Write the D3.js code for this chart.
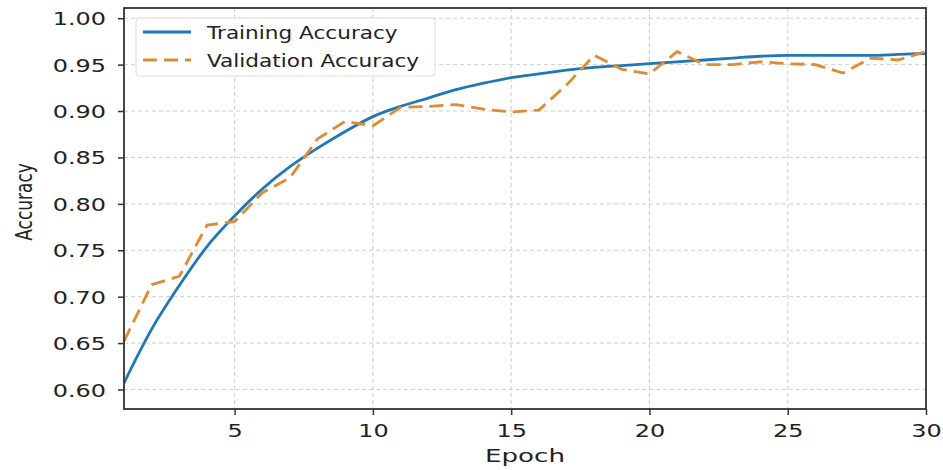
<!DOCTYPE html>
<html>
<head>
<meta charset="utf-8">
<script src="https://cdn.jsdelivr.net/npm/d3@7"></script>
<style>
  body { margin: 0; background: #fff; }
  text { font-family: "DejaVu Sans", sans-serif; fill: #222; }
</style>
</head>
<body>
<div class="acc-chart"></div>
<script>
// data
const epochs = d3.range(1, 31);
const trainAcc = [0.607, 0.665, 0.712, 0.754, 0.787, 0.816, 0.840, 0.860, 0.878, 0.894,
                  0.905, 0.914, 0.923, 0.930, 0.936, 0.940, 0.944, 0.947, 0.949, 0.951,
                  0.953, 0.955, 0.957, 0.959, 0.960, 0.960, 0.960, 0.960, 0.961, 0.962];
const valAcc = [0.652, 0.713, 0.722, 0.777, 0.781, 0.812, 0.828, 0.870, 0.889, 0.884,
                0.904, 0.905, 0.907, 0.902, 0.899, 0.901, 0.928, 0.960, 0.945, 0.940,
                0.964, 0.950, 0.950, 0.953, 0.951, 0.950, 0.941, 0.957, 0.955, 0.964];
const xTicks = [5, 10, 15, 20, 25, 30];
const yTicks = [0.60, 0.65, 0.70, 0.75, 0.80, 0.85, 0.90, 0.95, 1.00];
const seriesNames = ['Training Accuracy', 'Validation Accuracy'];

const w = 943, h = 470;
const plotL = 124, plotR = 926, plotT = 8, plotB = 409;
const sx = 1.33; // the picture is stretched sideways

const svg = d3.select('.acc-chart').append('svg')
    .attr('width', w)
    .attr('height', h);

const x = d3.scaleLinear().domain([1, 30]).range([plotL, plotR]);
const y = d3.scaleLinear().domain([0.579, 1.011]).range([plotB, plotT]);

// grid
svg.append('g').selectAll('line')
    .data(xTicks)
    .enter().append('line')
    .attr('x1', d => x(d)).attr('x2', d => x(d))
    .attr('y1', plotT).attr('y2', plotB)
    .attr('stroke', '#cfcfcf').attr('stroke-width', 1)
    .attr('stroke-dasharray', '4,3');
svg.append('g').selectAll('line')
    .data(yTicks)
    .enter().append('line')
    .attr('x1', plotL).attr('x2', plotR)
    .attr('y1', d => y(d)).attr('y2', d => y(d))
    .attr('stroke', '#cfcfcf').attr('stroke-width', 1)
    .attr('stroke-dasharray', '4,3');

// lines
const smooth = d3.line()
    .x((d, i) => x(epochs[i]))
    .y(d => y(d))
    .curve(d3.curveMonotoneX);
const line = d3.line()
    .x((d, i) => x(epochs[i]))
    .y(d => y(d));

svg.append('path')
    .datum(trainAcc)
    .attr('d', smooth)
    .attr('fill', 'none')
    .attr('stroke', '#1f77b4')
    .attr('stroke-width', 2.8);

svg.append('path')
    .datum(valAcc)
    .attr('d', line)
    .attr('fill', 'none')
    .attr('stroke', '#e08a33')
    .attr('stroke-width', 2.8)
    .attr('stroke-linejoin', 'round')
    .attr('stroke-dasharray', '14,7');

// frame
svg.append('rect')
    .attr('x', plotL).attr('y', plotT)
    .attr('width', plotR - plotL).attr('height', plotB - plotT)
    .attr('fill', 'none')
    .attr('stroke', '#333').attr('stroke-width', 1.8);

// x axis
const xAxis = svg.append('g')
    .attr('transform', `translate(0,${plotB})`)
    .call(d3.axisBottom(x).tickValues(xTicks).tickSize(6).tickFormat(d3.format('d')));
xAxis.select('.domain').remove();
xAxis.selectAll('.tick line').attr('stroke', '#333').attr('stroke-width', 1.5);
xAxis.selectAll('.tick text')
    .attr('y', 0).attr('dy', 0)
    .attr('transform', `translate(0,28) scale(${sx},1)`)
    .attr('font-size', 18)
    .attr('font-family', 'DejaVu Sans')
    .attr('fill', '#222');

// y axis
const yAxis = svg.append('g')
    .attr('transform', `translate(${plotL},0)`)
    .call(d3.axisLeft(y).tickValues(yTicks).tickSize(6).tickFormat(d3.format('.2f')));
yAxis.select('.domain').remove();
yAxis.selectAll('.tick line').attr('stroke', '#333').attr('stroke-width', 1.5);
yAxis.selectAll('.tick text')
    .attr('x', 0).attr('dy', 0)
    .attr('transform', `translate(-18,6.5) scale(${sx},1)`)
    .attr('font-size', 18)
    .attr('font-family', 'DejaVu Sans')
    .attr('fill', '#222');

// axis labels
svg.append('text')
    .attr('transform', `translate(${(plotL + plotR) / 2},462) scale(1.45,1)`)
    .attr('text-anchor', 'middle')
    .attr('font-size', 18)
    .text('Epoch');

svg.append('text')
    .attr('transform', `translate(32,202) scale(1.3,1) rotate(-90)`)
    .attr('text-anchor', 'middle')
    .attr('font-size', 17)
    .text('Accuracy');

// legend
const lg = svg.append('g');
lg.append('rect')
    .attr('x', 136).attr('y', 18)
    .attr('width', 299).attr('height', 58)
    .attr('rx', 3)
    .attr('fill', '#fff').attr('fill-opacity', 0.85)
    .attr('stroke', '#dcdcdc');

const colors = ['#1f77b4', '#e08a33'];
const dashes = [null, '14,7'];
lg.selectAll('line.key')
    .data(seriesNames)
    .enter().append('line')
    .attr('class', 'key')
    .attr('x1', 143).attr('x2', 191)
    .attr('y1', (d, i) => 32 + i * 28).attr('y2', (d, i) => 32 + i * 28)
    .attr('stroke', (d, i) => colors[i])
    .attr('stroke-width', 2.8)
    .attr('stroke-dasharray', (d, i) => dashes[i]);

lg.selectAll('text.key')
    .data(seriesNames)
    .enter().append('text')
    .attr('class', 'key')
    .attr('transform', (d, i) => `translate(207,${39 + i * 28}) scale(1.2,1)`)
    .attr('font-size', 18)
    .text(d => d);
</script>
</body>
</html>
